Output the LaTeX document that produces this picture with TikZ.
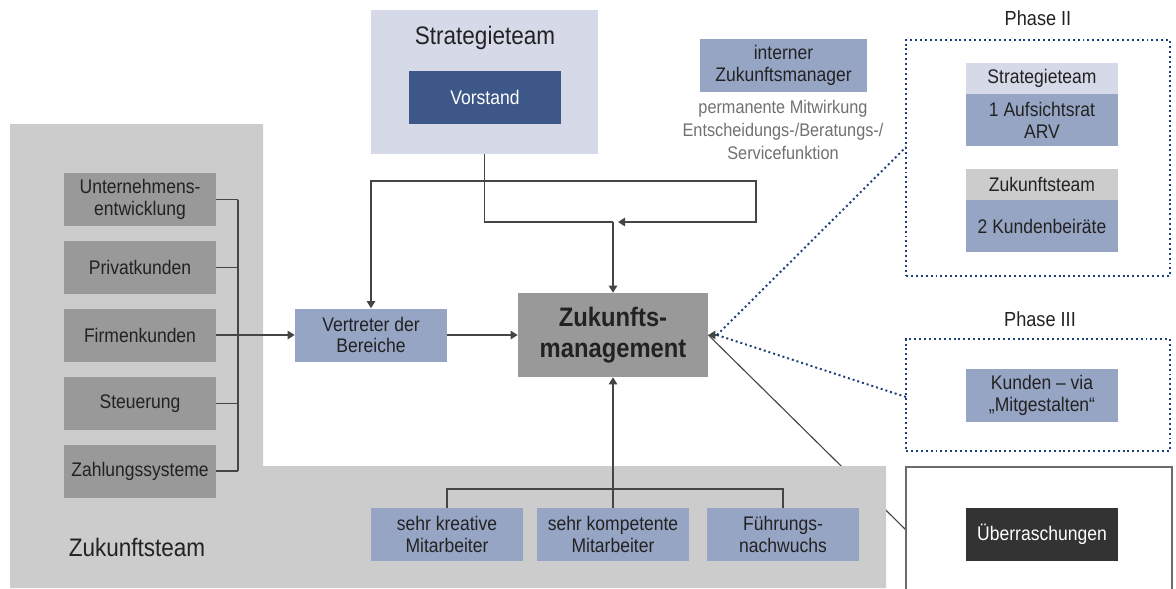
\documentclass[tikz,border=0pt]{standalone}
\usepackage{fontspec}
\setmainfont{Liberation Sans}[FakeStretch=0.89]
\usetikzlibrary{arrows.meta,calc}
\definecolor{grayA}{HTML}{CCCCCC}
\definecolor{grayB}{HTML}{999999}
\definecolor{blueL}{HTML}{97A5C5}
\definecolor{lav}{HTML}{D5D9E8}
\definecolor{navyD}{HTML}{3D5888}
\definecolor{dotc}{HTML}{1F3F7A}
\definecolor{ln}{HTML}{454545}
\definecolor{txt}{HTML}{222222}
\definecolor{gtxt}{HTML}{707070}
\definecolor{darkbox}{HTML}{333333}
\definecolor{frame}{HTML}{6B6B6B}
\newcommand{\bxf}{\fontsize{14}{15.5}\selectfont}
\newcommand{\bigf}{\fontsize{18}{20}\selectfont}
\pgfdeclarelayer{bgline}
\pgfdeclarelayer{bgarea}
\pgfsetlayers{bgline,bgarea,main}
\tikzset{
  box/.style={inner sep=0pt, align=center, font=\bxf, text=txt, minimum width=3.8cm, minimum height=1.325cm},
  gbox/.style={box, fill=grayB},
  bbox/.style={box, fill=blueL},
  hdr/.style={box, minimum height=0.775cm},
  conn/.style={draw=ln, line width=1pt},
  arr/.style={conn, -{Triangle[length=5pt,width=6pt]}},
  dotl/.style={draw=dotc, line width=1.4pt, dash pattern=on 1.4pt off 2.1pt},
  lbl/.style={inner sep=0pt, align=center, text=txt}
}
\begin{document}
\begin{tikzpicture}[x=0.025cm,y=-0.025cm]
\useasboundingbox (0,0) rectangle (1176,588);

% background L-shaped team area
\begin{pgfonlayer}{bgarea}
\fill[grayA] (10,124) -- (263,124) -- (263,466) -- (886,466) -- (886,588) -- (10,588) -- cycle;
\end{pgfonlayer}

% Strategieteam
\node[fill=lav, inner sep=0pt, minimum width=5.675cm, minimum height=3.6cm] (st) at (484.5,82) {};
\node[lbl, font=\bigf] (stl) at (485,38) {Strategieteam};
\node[box, fill=navyD, text=white] (vor) at (485,97.5) {Vorstand};

% interner Zukunftsmanager
\node[bbox, minimum width=4.175cm] (izm) at (783.5,65.5) {interner\\Zukunftsmanager};
\node[lbl, text=gtxt, font=\fontsize{13}{16.4}\selectfont] (perm) at (783,130) {permanente Mitwirkung\\Entscheidungs-/Beratungs-/\\Servicefunktion};

% left boxes
\node[gbox] (b1) at (140,199.5) {Unternehmens-\\entwicklung};
\node[gbox] (b2) at (140,267.5) {Privatkunden};
\node[gbox] (b3) at (140,335) {Firmenkunden};
\node[gbox] (b4) at (140,403.5) {Steuerung};
\node[gbox] (b5) at (140,471) {Zahlungssysteme};

% center
\node[bbox] (vt) at (371,335) {Vertreter der\\Bereiche};
\node[box, fill=grayB, minimum width=4.75cm, minimum height=2.1cm, font=\fontsize{19}{22.5}\selectfont\bfseries] (zm) at (613,335) {Zukunfts-\\management};

% bottom boxes
\node[bbox] (m1) at (447,534.5) {sehr kreative\\Mitarbeiter};
\node[bbox] (m2) at (613,534.5) {sehr kompetente\\Mitarbeiter};
\node[bbox] (m3) at (783,534.5) {Führungs-\\nachwuchs};
\node[lbl, font=\bigf] (ztl) at (137,547) {Zukunftsteam};

% Phase II
\node[lbl, font=\fontsize{14.5}{16}\selectfont] (ph2) at (1038,18) {Phase II};
\node[dotl, inner sep=0pt, minimum width=6.6cm, minimum height=5.9cm] (p2) at (1038,158) {};
\node[hdr, fill=lav] (h1) at (1042,78.5) {Strategieteam};
\node[bbox, minimum height=1.3cm] (a1) at (1042,120) {1 Aufsichtsrat\\ARV};
\node[hdr, fill=grayA] (h2) at (1042,184.5) {Zukunftsteam};
\node[bbox, minimum height=1.3cm] (a2) at (1042,226) {2 Kundenbeiräte};

% Phase III
\node[lbl, font=\fontsize{14.5}{16}\selectfont] (ph3) at (1040,319) {Phase III};
\node[dotl, inner sep=0pt, minimum width=6.6cm, minimum height=2.8cm] (p3) at (1038,395) {};
\node[bbox] (ku) at (1042,395.5) {Kunden – via\\„Mitgestalten“};

% Ueberraschungen
\node[draw=frame, line width=1.2pt, fill=white, inner sep=0pt, minimum width=6.65cm, minimum height=3.1cm] (ub) at (1039,529) {};
\node[box, fill=darkbox, text=white] (ue) at (1042,534.5) {Überraschungen};

% connectors top
\coordinate (j) at (613,222);
\coordinate (j2) at (618,222);
\coordinate (lp) at (756,181);
\draw[conn] (st.south) |- (j);
\draw[arr] (j) -- (zm.north);
\draw[conn, {Triangle[length=5pt,width=6pt]}-{Triangle[length=5pt,width=6pt]}] (j2) -| (lp) -| (vt.north);

% left bracket
\coordinate (br) at (238,335);
\foreach \b in {b1,b2,b4,b5} \draw[conn] (\b.east) -- (\b.east -| br);
\draw[conn] (b1.east -| br) -- (b5.east -| br);
\draw[arr] (b3.east) -- (vt.west);
\draw[arr] (vt.east) -- (zm.west);

% bottom bracket
\coordinate (bb) at (613,489);
\draw[conn] (m1.north) -- (m1.north |- bb) -- (m3.north |- bb) -- (m3.north);
\draw[arr] (m2.north) -- (zm.south);

% dotted links
\coordinate (zt) at (717,335);
\coordinate (p2in) at (906,147);
\coordinate (p3in) at (906,397);
\draw[dotl] (zt) -- (p2in);
\draw[dotl] (zt) -- (p3in);
\draw[arr] (zt) -- (zm.east);

% diagonal line behind team area
\coordinate (uin) at (906,530);
\begin{pgfonlayer}{bgline}
\draw[draw=ln, line width=0.8pt] (zm.east) -- (uin);
\end{pgfonlayer}
\end{tikzpicture}
\end{document}
